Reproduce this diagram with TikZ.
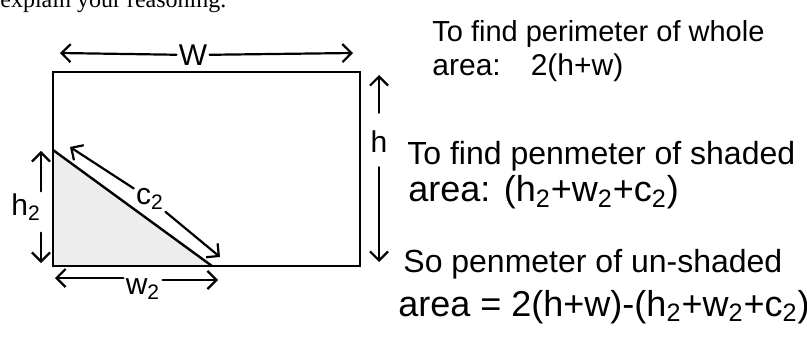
\documentclass[tikz,border=0pt]{standalone}
\usepackage{fontspec}
\setmainfont{Liberation Sans}
\newfontfamily\printfont{Liberation Serif}
\usepackage{tikz}
\usetikzlibrary{arrows.meta}

\begin{document}
\begin{tikzpicture}[x=0.5pt,y=-0.5pt,>={Straight Barb[length=4.5pt,width=9pt]}]
\tikzstyle{pen}=[line width=1.1pt,line cap=round]
\tikzstyle{lbl}=[inner sep=1pt,font=\fontsize{15}{18}\selectfont]
\tikzstyle{note}=[anchor=base west,inner sep=0pt]
\useasboundingbox (0,0) rectangle (807,352);
% question line, cut at the top
\node[note,font=\printfont\fontsize{12}{14}\selectfont] (q) at (0,8) {explain your reasoning.};
% whole area with the shaded corner
\coordinate (tl) at (53,72);
\coordinate (br) at (360,266);
\coordinate (bl) at (53,266);
\coordinate (t2) at (53,150);
\coordinate (b2) at (212,266);
\fill[gray!14] (t2) -- (b2) -- (bl) -- cycle;
\draw[line width=0.8pt] (tl) rectangle (br);
\draw[line width=1.2pt] (t2) -- (b2);
% side labels
\node[lbl] (w) at (193,55) {W};
\node[lbl] (h) at (379,142) {h};
\node[lbl] (h2) at (26,207) {h\textsubscript{2}};
\node[lbl] (w2) at (143,289) {w\textsubscript{2}};
\node[lbl] (c2) at (150,199) {c\textsubscript{2}};
\coordinate (wl) at (60,53);
\coordinate (wr) at (353,53);
\coordinate (ht) at (379,75);
\coordinate (hb) at (379,262);
\coordinate (h2t) at (41,151);
\coordinate (h2b) at (41,263);
\coordinate (w2l) at (55,278);
\coordinate (w2r) at (218,280);
\coordinate (c2a) at (70,147);
\coordinate (c2b) at (220,257);
% measuring arrows
\draw[pen,<-] (wl) -- (w);
\draw[pen,->] (w) -- (wr);
\draw[pen,<-,shorten >=8pt] (ht) -- (h);
\draw[pen,->,shorten <=6pt] (h) -- (hb);
\draw[pen,<-] (h2t) -- (h2t |- h2.north);
\draw[pen,->,shorten <=5pt] (h2t |- h2.south) -- (h2b);
\draw[pen,<-] (w2l) -- (w2.west |- w2l);
\draw[pen,->] (w2.east |- w2r) -- (w2r);
\draw[pen,<-] (c2a) -- (c2);
\draw[pen,->] (c2) -- (c2b);
% working
\node[note,font=\fontsize{14.5}{17}\selectfont] (l1) at (432,42) {To find perimeter of whole};
\node[note,font=\fontsize{15}{18}\selectfont] (l2) at (432,76) {area:\quad 2(h+w)};
\node[note,font=\fontsize{16}{19}\selectfont] (l3) at (407,165) {To find penmeter of shaded};
\node[note,font=\fontsize{18}{21}\selectfont] (l4) at (408,202) {area: (h\textsubscript{2}+w\textsubscript{2}+c\textsubscript{2})};
\node[note,font=\fontsize{16}{19}\selectfont] (l5) at (403,272) {So penmeter of un-shaded};
\node[note,font=\fontsize{18}{21}\selectfont] (l6) at (398,316) {area = 2(h+w)-(h\textsubscript{2}+w\textsubscript{2}+c\textsubscript{2})};
\end{tikzpicture}
\end{document}
